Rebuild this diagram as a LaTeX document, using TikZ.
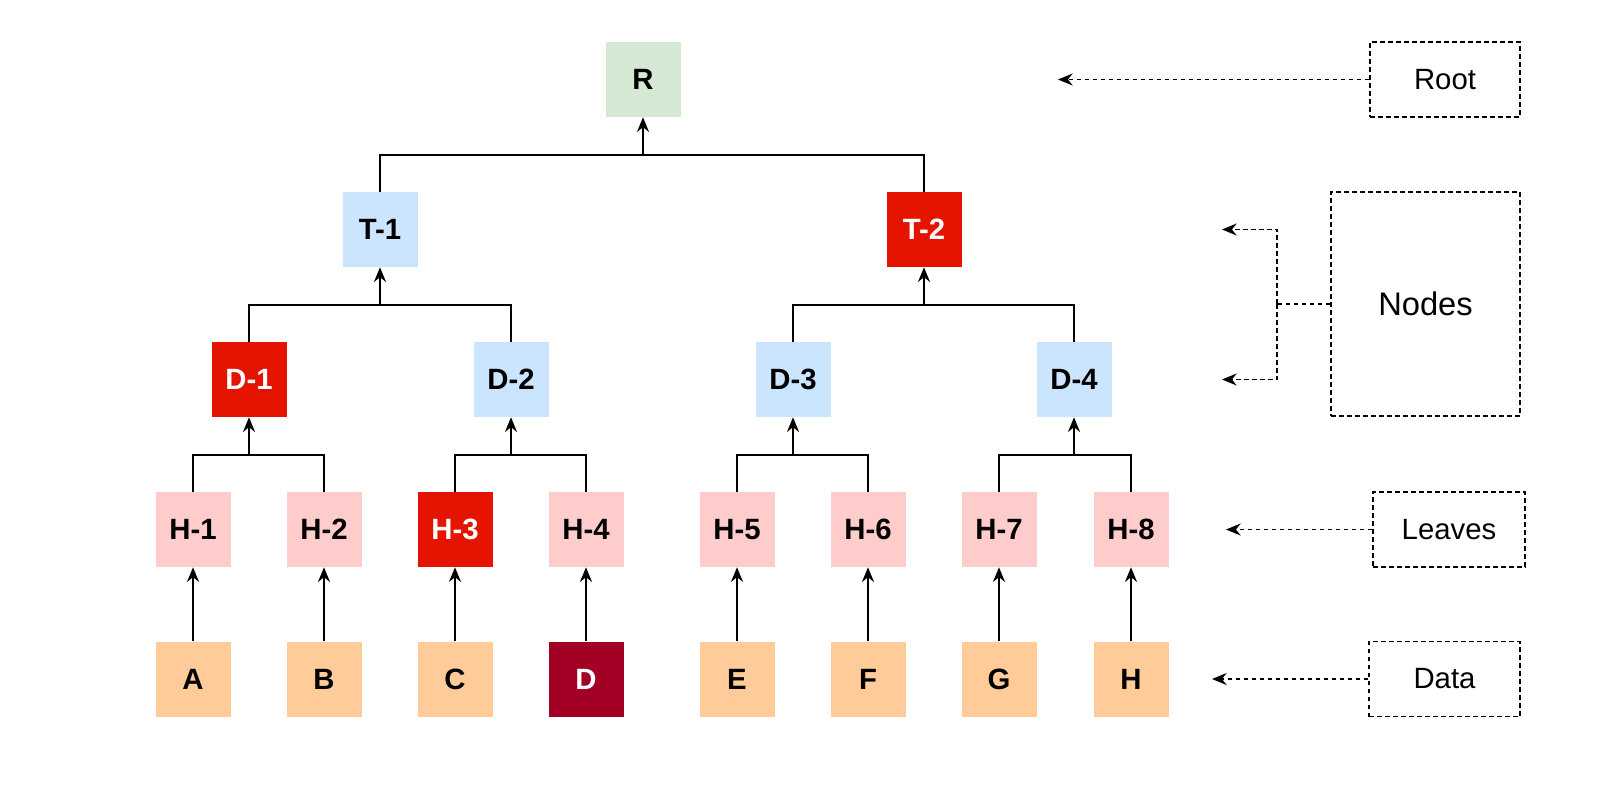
\documentclass[tikz,border=0pt]{standalone}
\usepackage{fontspec}
\setmainfont{Liberation Sans}
\usetikzlibrary{positioning}
\usetikzlibrary{arrows.meta}
\definecolor{rootgreen}{HTML}{D5E8D4}
\definecolor{hashblue}{HTML}{CCE5FF}
\definecolor{hotred}{HTML}{E51400}
\definecolor{leafpink}{HTML}{FFCCCC}
\definecolor{dataorange}{HTML}{FFCC99}
\definecolor{wine}{HTML}{A20025}
\tikzset{x=0.75pt, y=-0.75pt,
hashbox/.style={ % Sets the properties for each square of the tree
minimum width=56.25pt,
minimum height=56.25pt,
inner sep=0pt,
font=\fontsize{22}{26}\selectfont\bfseries},
changed/.style={hashbox, fill=hotred, text=white}, % Marked (altered) squares
keybox/.style={ % Dashed legend boxes
draw, dash pattern=on 3.5pt off 2.5pt, line width=1.1pt,
inner sep=0pt,
font=\fontsize{22}{26}\selectfont},
link/.style={line width=1.3pt},
tip/.style={link, -{Stealth[length=11pt,width=9pt]}},
keytip/.style={line width=1.1pt, dash pattern=on 3.5pt off 2.5pt, -{Stealth[length=11pt,width=9pt]}}}

\begin{document}
\begin{tikzpicture}
\useasboundingbox (0,0) rectangle (1600,790);
% tree
\node[hashbox, fill=rootgreen] (r) at (643,79.5) {R};
\node[hashbox, fill=hashblue] (t1) at (380,229.5) {T-1};
\node[changed] (t2) at (924,229.5) {T-2};
\node[changed] (d1) at (249,379.5) {D-1};
\node[hashbox, fill=hashblue] (d2) at (511,379.5) {D-2};
\node[hashbox, fill=hashblue] (d3) at (793,379.5) {D-3};
\node[hashbox, fill=hashblue] (d4) at (1074,379.5) {D-4};
\node[hashbox, fill=leafpink] (h1) at (193,529.5) {H-1};
\node[hashbox, fill=leafpink] (h2) at (324,529.5) {H-2};
\node[changed] (h3) at (455,529.5) {H-3};
\node[hashbox, fill=leafpink] (h4) at (586,529.5) {H-4};
\node[hashbox, fill=leafpink] (h5) at (737,529.5) {H-5};
\node[hashbox, fill=leafpink] (h6) at (868,529.5) {H-6};
\node[hashbox, fill=leafpink] (h7) at (999,529.5) {H-7};
\node[hashbox, fill=leafpink] (h8) at (1131,529.5) {H-8};
\node[hashbox, fill=dataorange] (a) at (193,679) {A};
\node[hashbox, fill=dataorange] (b) at (324,679) {B};
\node[hashbox, fill=dataorange] (c) at (455,679) {C};
\node[hashbox, fill=wine, text=white] (d) at (586,679) {D};
\node[hashbox, fill=dataorange] (e) at (737,679) {E};
\node[hashbox, fill=dataorange] (f) at (868,679) {F};
\node[hashbox, fill=dataorange] (g) at (999,679) {G};
\node[hashbox, fill=dataorange] (h) at (1131,679) {H};
% joints
\foreach \lft/\rgt/\up in {t1/t2/r, d1/d2/t1, d3/d4/t2, h1/h2/d1, h3/h4/d2, h5/h6/d3, h7/h8/d4}{
\draw[link] (\lft.north) |- ([yshift=-28.5pt]\up.south) -| (\rgt.north);
\draw[tip] ([yshift=-28.5pt]\up.south) -- (\up.south);
}
\foreach \src/\dst in {a/h1, b/h2, c/h3, d/h4, e/h5, f/h6, g/h7, h/h8}
\draw[tip] (\src) -- (\dst);
% legend
\node[keybox, minimum width=112.5pt, minimum height=56.25pt] (rootkey) at (1445,79.5) {Root};
\node[keybox, minimum width=141.75pt, minimum height=168pt,
font=\fontsize{24.5}{28}\selectfont] (nodeskey) at (1425.5,304) {Nodes};
\node[keybox, minimum width=114pt, minimum height=56.25pt] (leaveskey) at (1449,529.5) {Leaves};
\node[keybox, minimum width=113.25pt, minimum height=56.25pt] (datakey) at (1444.5,679) {Data};
\coordinate (rootend) at (1058,79.5);
\coordinate (split) at (1277,304);
\coordinate (tend) at (1222,229.5);
\coordinate (dend) at (1222,379.5);
\coordinate (leavesend) at (1226,529.5);
\coordinate (dataend) at (1212,679);
\draw[keytip] (rootkey) -- (rootend);
\draw[line width=1.1pt, dash pattern=on 3.5pt off 2.5pt] (nodeskey) -- (split);
\draw[keytip] (split) |- (tend);
\draw[keytip] (split) |- (dend);
\draw[keytip] (leaveskey) -- (leavesend);
\draw[keytip] (datakey) -- (dataend);
\end{tikzpicture}
\end{document}
